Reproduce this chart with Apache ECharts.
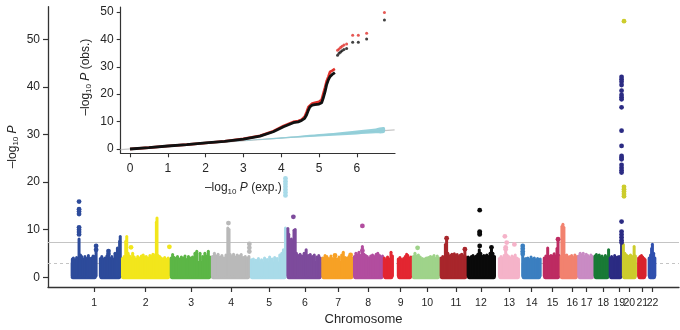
<!DOCTYPE html>
<html><head><meta charset="utf-8">
<script src="https://cdn.jsdelivr.net/npm/echarts@6/dist/echarts.min.js"></script>
<style>html,body{margin:0;padding:0;background:#fff}#c{width:680px;height:330px}</style>
</head><body><div id="c"></div>
<script>
// ---------- Manhattan data (x in cumulative Mb, y in -log10 P) ----------
const chromosomes = ['1','2','3','4','5','6','7','8','9','10','11','12','13','14','15','16','17','18','19','20','21','22'];
const chromColors = ['#2d4b9b','#f2e61c','#5cb646','#b9b9b9','#a9dbe9','#7d4b9c','#f7a125','#b24d9f','#e32631','#9fd38a','#a8262b','#0a0a0a','#f5b3c9','#3b7fc0','#bd2b62','#f2826f','#c98bc4','#197a36','#2b2b83','#cccc2c','#d8232c','#3050ae'];
const tickPos = [116,369,593,790,978,1154,1318,1466,1626,1757,1898,2021,2161,2271,2374,2471,2542,2624,2702,2752,2816,2867];
// genotyped segments: [chromosome index, start, end]
const segments = [[0,0,128],[0,141,248],[1,248,489],[2,489,691],[3,691,883],[4,883,1064],[5,1064,1236],[6,1236,1392],[7,1392,1540],[8,1540,1589],[8,1609,1681],[9,1681,1819],[10,1819,1953],[11,1953,2094],[12,2107,2213],[13,2222,2317],[14,2328,2410],[15,2410,2498],[16,2498,2578],[17,2578,2653],[18,2653,2717],[19,2717,2788],[20,2793,2834],[21,2845,2883]];
// level reached by the dense bulk of SNPs in each chromosome
const baseLevel = [3.0,3.1,3.0,3.1,2.9,3.0,3.0,3.0,3.0,3.0,3.2,3.0,3.0,2.9,3.0,3.0,3.2,3.0,3.0,3.0,3.0,3.0];
// columns of SNPs rising above the bulk: [chromosome index, position, top -log10 P]
const spikes = [
[0,8,3.8],[0,13,4.0],[0,22,3.6],[0,29,4.1],[0,41,8.0],[0,48,4.6],[0,54,4.3],[0,62,3.8],[0,70,4.3],[0,78,3.9],[0,87,4.5],[0,95,3.9],[0,103,4.0],[0,110,4.4],[0,116,4.3],[0,125,5.4],
[0,146,3.9],[0,153,4.3],[0,161,3.8],[0,169,4.0],[0,178,4.4],[0,186,4.7],[0,195,3.9],[0,202,4.3],[0,210,3.8],[0,218,5.0],[0,224,4.4],[0,230,6.1],[0,237,4.8],[0,241,7.5],[0,244,8.5],
[1,255,3.9],[1,263,4.3],[1,271,7.5],[1,276,8.5],[1,283,5.0],[1,290,4.4],[1,297,4.0],[1,305,5.0],[1,313,4.2],[1,322,3.8],[1,330,4.3],[1,340,4.0],[1,348,4.4],[1,357,4.6],[1,365,4.2],[1,372,4.3],[1,380,4.0],[1,390,4.5],[1,398,4.3],[1,405,4.8],[1,412,4.2],[1,418,4.7],[1,422,11.5],[1,425,12.4],[1,430,4.5],[1,438,4.3],[1,446,4.0],[1,455,3.8],[1,463,4.1],[1,472,3.7],[1,480,4.0],[1,486,3.6],
[2,495,4.0],[2,502,4.7],[2,510,4.1],[2,518,3.9],[2,526,4.3],[2,535,3.8],[2,545,4.2],[2,555,4.0],[2,563,4.4],[2,572,3.7],[2,580,4.3],[2,590,4.0],[2,600,4.2],[2,612,5.0],[2,621,5.4],[2,637,5.0],[2,650,4.3],[2,661,5.0],[2,670,4.4],[2,678,5.4],[2,686,4.2],
[3,698,4.3],[3,708,5.0],[3,716,4.4],[3,726,4.8],[3,736,4.2],[3,745,4.5],[3,755,4.0],[3,765,4.6],[3,774,10.3],[3,780,10.0],[3,786,4.7],[3,794,4.3],[3,802,4.8],[3,810,4.2],[3,820,4.6],[3,830,4.4],[3,840,4.7],[3,850,4.1],[3,860,4.3],[3,870,4.0],[3,878,4.3],
[4,890,3.6],[4,900,3.8],[4,912,3.5],[4,925,3.9],[4,940,3.6],[4,955,4.0],[4,968,3.7],[4,980,4.2],[4,993,3.8],[4,1005,4.1],[4,1017,3.9],[4,1030,4.6],[4,1040,5.0],[4,1048,5.7],[4,1058,10.3],
[5,1070,10.2],[5,1074,9.0],[5,1080,7.5],[5,1087,8.0],[5,1093,7.6],[5,1100,9.8],[5,1106,10.0],[5,1112,5.0],[5,1120,4.5],[5,1130,4.8],[5,1140,4.4],[5,1150,5.0],[5,1160,5.7],[5,1170,4.5],[5,1180,4.7],[5,1190,4.3],[5,1200,4.6],[5,1212,4.2],[5,1222,4.5],[5,1230,4.0],
[6,1242,4.0],[6,1253,4.5],[6,1262,4.3],[6,1272,3.9],[6,1282,4.4],[6,1292,3.9],[6,1302,4.3],[6,1312,3.8],[6,1322,4.2],[6,1335,4.6],[6,1343,5.2],[6,1352,4.1],[6,1362,4.0],[6,1371,4.3],[6,1379,4.5],[6,1387,4.0],
[7,1398,4.3],[7,1405,5.0],[7,1413,4.6],[7,1420,5.2],[7,1428,4.5],[7,1437,6.4],[7,1445,4.8],[7,1453,4.5],[7,1461,4.3],[7,1470,4.0],[7,1478,4.4],[7,1487,4.6],[7,1495,4.3],[7,1505,4.8],[7,1513,5.0],[7,1522,4.5],[7,1530,4.1],[7,1536,4.4],
[8,1545,4.0],[8,1553,3.6],[8,1561,4.2],[8,1570,3.8],[8,1578,5.2],[8,1585,4.4],[8,1614,3.8],[8,1622,4.1],[8,1630,3.7],[8,1640,3.9],[8,1648,4.3],[8,1655,4.8],[8,1661,4.5],[8,1668,4.0],[8,1676,4.2],
[9,1688,4.3],[9,1696,5.0],[9,1705,4.4],[9,1713,4.6],[9,1722,4.2],[9,1732,3.9],[9,1742,3.8],[9,1752,4.0],[9,1762,4.1],[9,1772,4.3],[9,1781,4.2],[9,1790,4.5],[9,1798,3.9],[9,1806,4.4],[9,1814,4.0],
[10,1825,4.0],[10,1833,4.3],[10,1840,4.1],[10,1846,6.8],[10,1852,8.0],[10,1858,5.0],[10,1864,4.4],[10,1871,4.5],[10,1878,4.8],[10,1884,4.2],[10,1890,4.9],[10,1897,4.5],[10,1904,4.7],[10,1912,4.3],[10,1920,4.6],[10,1927,4.8],[10,1935,4.4],[10,1942,5.6],[10,1948,4.2],
[11,1958,4.2],[11,1966,4.0],[11,1974,4.3],[11,1982,4.5],[11,1990,4.2],[11,1998,4.4],[11,2006,4.8],[11,2013,5.7],[11,2020,5.0],[11,2028,4.3],[11,2035,4.5],[11,2043,4.4],[11,2050,4.6],[11,2058,4.3],[11,2066,5.0],[11,2073,6.1],[11,2080,5.0],[11,2088,4.3],
[12,2112,3.9],[12,2120,4.3],[12,2128,4.0],[12,2135,4.5],[12,2143,5.7],[12,2150,4.6],[12,2158,4.3],[12,2166,4.0],[12,2174,4.4],[12,2182,4.2],[12,2190,4.6],[12,2198,4.0],[12,2206,3.8],
[13,2227,4.6],[13,2235,3.8],[13,2243,3.9],[13,2252,4.0],[13,2260,3.7],[13,2268,4.2],[13,2276,3.8],[13,2284,4.0],[13,2292,3.6],[13,2300,3.9],[13,2308,3.6],[13,2313,3.8],
[14,2333,4.0],[14,2341,4.4],[14,2350,6.1],[14,2358,4.3],[14,2366,4.5],[14,2374,4.4],[14,2382,4.9],[14,2390,4.4],[14,2396,6.0],[14,2401,7.8],[14,2406,4.5],
[15,2416,4.3],[15,2420,10.6],[15,2425,11.1],[15,2430,10.4],[15,2436,4.5],[15,2444,4.6],[15,2452,4.2],[15,2460,4.3],[15,2468,4.5],[15,2476,4.1],[15,2484,4.6],[15,2490,4.0],[15,2495,4.3],
[16,2503,4.4],[16,2510,5.0],[16,2518,4.6],[16,2525,5.0],[16,2533,4.3],[16,2540,4.8],[16,2548,4.5],[16,2556,4.2],[16,2563,4.6],[16,2570,4.3],[16,2575,4.0],
[17,2583,4.4],[17,2590,4.7],[17,2597,4.3],[17,2604,4.6],[17,2611,4.2],[17,2618,4.4],[17,2626,4.0],[17,2634,4.5],[17,2642,4.2],[17,2650,5.7],
[18,2658,4.0],[18,2665,4.3],[18,2672,3.9],[18,2680,4.5],[18,2688,4.1],[18,2695,4.2],[18,2702,4.3],[18,2708,3.9],[18,2714,6.8],
[19,2723,6.8],[19,2730,5.0],[19,2737,4.6],[19,2744,4.4],[19,2751,4.3],[19,2758,4.6],[19,2766,4.3],[19,2776,6.4],[19,2782,4.4],
[20,2798,4.0],[20,2805,4.3],[20,2812,4.5],[20,2818,4.2],[20,2825,3.9],[20,2830,3.6],
[21,2850,4.0],[21,2857,4.6],[21,2862,6.0],[21,2866,6.9],[21,2872,5.0],[21,2878,4.0]
];
// individual SNPs standing out: [chromosome index, position, -log10 P]
const hits = [
[0,41,15.9],[0,41,14.3],[0,41,13.8],[0,41,13.3],[0,41,10.5],[0,41,10.0],[0,41,9.5],[0,41,9.0],[0,125,6.6],[0,125,5.8],[0,186,5.5],[0,186,4.9],
[1,297,6.3],[1,486,6.4],
[3,777,11.4],[3,880,7.0],[3,880,6.2],[3,880,5.4],
[4,1058,20.8],[4,1058,20.2],[4,1058,19.6],[4,1058,19.0],[4,1058,18.4],[4,1058,17.8],[4,1058,17.2],
[5,1097,12.7],
[6,1302,4.6],[6,1379,4.7],
[7,1437,10.8],[7,1437,5.6],
[9,1709,6.2],
[10,1852,8.2],[10,1942,5.9],
[11,2015,14.1],[11,2015,9.6],[11,2015,9.3],[11,2015,9.0],[11,2015,6.6],[11,2073,6.3],
[12,2139,8.6],[12,2148,7.3],[12,2143,6.3],[12,2143,5.9],[12,2186,6.9],
[13,2227,6.6],[13,2227,6.0],[13,2227,5.4],[13,2227,4.9],
[14,2401,8.0],
[18,2714,42.1],[18,2714,41.6],[18,2714,41.1],[18,2714,40.4],[18,2714,39.2],[18,2714,38.3],[18,2714,37.8],[18,2714,37.4],[18,2714,35.7],[18,2714,30.8],[18,2714,27.6],[18,2714,25.5],[18,2714,25.1],[18,2714,24.8],[18,2714,23.6],[18,2714,23.0],[18,2714,22.5],[18,2714,22.0],[18,2714,11.7],[18,2714,9.6],[18,2714,9.0],[18,2714,8.4],[18,2714,7.8],[18,2714,7.3],
[19,2726,53.8],[19,2726,19.0],[19,2726,18.5],[19,2726,18.0],[19,2726,17.5],[19,2726,17.0]
];
const genomeWideLine = 7.3;
const suggestiveLine = 2.9;
const manhattanYTicks = [0,10,20,30,40,50];

// ---------- QQ inset data ----------
const qqExpected = [0,0.5,1,1.5,2,2.5,3,3.44,3.79,4.06,4.32,4.45,4.54,4.62,4.67,4.72,4.76,4.82,4.89,5.0,5.07,5.11,5.16,5.2,5.25,5.29,5.35,5.42];
const qqObsBlack = [0,0.5,1.1,1.6,2.2,2.8,3.6,4.7,6.3,8.1,9.6,9.9,10.4,11.2,12.4,14.2,15.4,16.0,16.2,16.4,16.9,18.5,20.9,23.4,25.3,26.4,27.2,27.9];
const qqObsRed   = [0,0.5,1.1,1.6,2.2,2.8,3.7,4.8,6.5,8.4,9.9,10.2,10.7,11.8,13.4,15.3,16.0,16.6,16.9,17.2,18.0,20.0,22.5,24.7,26.5,28.1,28.6,29.2];
const qqTopExpected = [5.49,5.53,5.57,5.61,5.66,5.73,5.89,6.04,6.26,6.73];
const qqTopBlack    = [34.2,34.9,35.4,35.8,36.3,36.7,38.9,38.9,40.1,47.1];
const qqTopRed      = [36.0,36.5,37.0,37.5,37.9,38.3,41.5,41.5,42.2,49.8];
const qqNullLine = [[-0.25,-0.25],[7.0,7.0]];
const bandExp  = [2.5,3,3.5,4,4.5,5,5.5,6,6.5,6.73];
const bandLow  = [2.45,2.9,3.35,3.75,4.15,4.55,4.95,5.3,5.7,5.9];
const bandHigh = [2.55,3.1,3.65,4.25,4.85,5.45,6.05,6.75,7.5,7.9];
const qqXTicks = [0,1,2,3,4,5,6];
const qqYTicks = [0,10,20,30,40,50];

// ---------- chart ----------
const FONT = "'Liberation Sans', Arial, sans-serif";
const TXT = '#262626';
const AX = '#333333';
const rich = {
  n: {fontSize: 12, lineHeight: 15, fontFamily: FONT, color: TXT},
  s: {fontSize: 8, lineHeight: 7, verticalAlign: 'bottom', fontFamily: FONT, color: TXT},
  i: {fontSize: 12, lineHeight: 15, fontStyle: 'italic', fontFamily: FONT, color: TXT}
};
function logName(suffix) {
  return '{n|\u2013log}{s|10}{n| }{i|P}' + (suffix ? '{n| ' + suffix + '}' : '');
}

function blockItem(params, api) {
  const chr = api.value(0);
  const tl = api.coord([api.value(1), baseLevel[chr]]);
  const br = api.coord([api.value(2), 0]);
  return {type: 'rect', shape: {x: tl[0], y: tl[1] - 2, width: br[0] - tl[0], height: br[1] - tl[1] + 4, r: 2},
          style: {fill: chromColors[chr]}};
}
function spikeItem(params, api) {
  const chr = api.value(0);
  const t = api.coord([api.value(1), api.value(2)]);
  const b = api.coord([api.value(1), 0]);
  return {type: 'rect', shape: {x: t[0] - 1.5, y: t[1] - 1.8, width: 3, height: b[1] - t[1] + 1.8, r: 1.5},
          style: {fill: chromColors[chr]}};
}
function bandItem(params, api) {
  const pts = [];
  for (let i = 0; i < bandExp.length; i++) pts.push(api.coord([bandExp[i], bandHigh[i]]));
  for (let i = bandExp.length - 1; i >= 0; i--) pts.push(api.coord([bandExp[i], bandLow[i]]));
  return {type: 'polygon', shape: {points: pts, smooth: 0.3}, style: {fill: '#8fcdd8', opacity: 0.95}};
}

const X_MAX = 2997;
const chart = echarts.init(document.getElementById('c'));
chart.setOption({
  animation: false,
  backgroundColor: '#ffffff',
  grid: [
    {left: 48, top: 6.7, width: 631, height: 280.3, outerBoundsMode: 'none', containLabel: false},
    {left: 120.7, top: 7, width: 274.3, height: 146.3, outerBoundsMode: 'none', containLabel: false}
  ],
  xAxis: [
    {type: 'value', gridIndex: 0, min: -112, max: X_MAX,
     axisLine: {show: true, onZero: false, lineStyle: {color: AX, width: 1.3}},
     axisTick: {show: true, customValues: tickPos, length: 5, lineStyle: {color: AX, width: 1.2}},
     // an empty trailing label keeps "21" and "22" from being treated as the edge label
     axisLabel: {customValues: tickPos.concat([X_MAX]), margin: 11, fontSize: 10.5, fontFamily: FONT, color: TXT,
                 hideOverlap: false, showMinLabel: true, showMaxLabel: true,
                 formatter: v => { const k = tickPos.indexOf(v); return k < 0 ? '' : chromosomes[k]; }},
     splitLine: {show: false},
     name: 'Chromosome', nameLocation: 'middle', nameGap: 26, nameMoveOverlap: false,
     nameTextStyle: {fontSize: 13, fontFamily: FONT, color: TXT}},
    {type: 'value', gridIndex: 1, min: -0.246, max: 7.01,
     axisLine: {show: true, onZero: false, lineStyle: {color: AX, width: 1.2}},
     axisTick: {show: true, customValues: qqXTicks, length: 4, lineStyle: {color: AX, width: 1.1}},
     axisLabel: {customValues: qqXTicks, margin: 9, fontSize: 12, fontFamily: FONT, color: TXT},
     splitLine: {show: false},
     name: logName('(exp.)'), nameLocation: 'middle', nameGap: 27, nameMoveOverlap: false,
     nameTextStyle: {rich: rich, padding: [0, 29, 0, 0]}}
  ],
  yAxis: [
    {type: 'value', gridIndex: 0, min: -2.04, max: 56.85,
     axisLine: {show: true, onZero: false, lineStyle: {color: AX, width: 1.3}},
     axisTick: {show: true, customValues: manhattanYTicks, length: 5, lineStyle: {color: AX, width: 1.2}},
     axisLabel: {customValues: manhattanYTicks, margin: 8, fontSize: 12, fontFamily: FONT, color: TXT},
     splitLine: {show: false},
     name: logName(''), nameLocation: 'middle', nameGap: 28, nameRotate: 90, nameMoveOverlap: false,
     nameTextStyle: {rich: rich}},
    {type: 'value', gridIndex: 1, min: -1.57, max: 51.8,
     axisLine: {show: true, onZero: false, lineStyle: {color: AX, width: 1.2}},
     axisTick: {show: true, customValues: qqYTicks, length: 4, lineStyle: {color: AX, width: 1.1}},
     axisLabel: {customValues: qqYTicks, margin: 7, fontSize: 12, fontFamily: FONT, color: TXT},
     splitLine: {show: false},
     name: logName('(obs.)'), nameLocation: 'middle', nameGap: 28, nameRotate: 90, nameMoveOverlap: false,
     nameTextStyle: {rich: rich, padding: [0, 0, 0, 6]}}
  ],
  series: [
    {type: 'custom', xAxisIndex: 0, yAxisIndex: 0, z: 3, renderItem: blockItem,
     encode: {x: [1, 2], y: 0}, data: segments, silent: true,
     markLine: {silent: true, symbol: 'none', z: 1, label: {show: false},
                data: [
                  {yAxis: genomeWideLine, lineStyle: {color: '#c4c4c4', width: 1, type: 'solid'}},
                  {yAxis: suggestiveLine, lineStyle: {color: '#c4c4c4', width: 1, type: [3, 3]}}
                ]}},
    {type: 'custom', xAxisIndex: 0, yAxisIndex: 0, z: 4, renderItem: spikeItem,
     encode: {x: 1, y: 2}, data: spikes, silent: true},
    {type: 'scatter', xAxisIndex: 0, yAxisIndex: 0, z: 5, symbolSize: 4.8,
     encode: {x: 1, y: 2}, data: hits, silent: true,
     itemStyle: {color: p => chromColors[p.value[0]], opacity: 1}},
    // QQ inset
    {type: 'custom', xAxisIndex: 1, yAxisIndex: 1, z: 6, renderItem: bandItem,
     data: [[bandExp[0], bandLow[0]]], silent: true},
    {type: 'line', xAxisIndex: 1, yAxisIndex: 1, z: 5, data: qqNullLine, symbol: 'none', silent: true,
     lineStyle: {color: '#c6c6c6', width: 1.2}},
    {type: 'line', xAxisIndex: 1, yAxisIndex: 1, z: 7, symbol: 'none', silent: true,
     data: qqExpected.map((x, i) => [x, qqObsRed[i]]), lineStyle: {color: '#e0302a', width: 2.6}},
    {type: 'line', xAxisIndex: 1, yAxisIndex: 1, z: 8, symbol: 'none', silent: true,
     data: qqExpected.map((x, i) => [x, qqObsBlack[i]]), lineStyle: {color: '#111111', width: 2.8}},
    {type: 'scatter', xAxisIndex: 1, yAxisIndex: 1, z: 9, symbolSize: 3, silent: true,
     data: qqTopExpected.map((x, i) => [x, qqTopRed[i]]), itemStyle: {color: '#e0302a'}},
    {type: 'scatter', xAxisIndex: 1, yAxisIndex: 1, z: 9, symbolSize: 3, silent: true,
     data: qqTopExpected.map((x, i) => [x, qqTopBlack[i]]), itemStyle: {color: '#111111'}}
  ]
});
</script>
</body></html>
